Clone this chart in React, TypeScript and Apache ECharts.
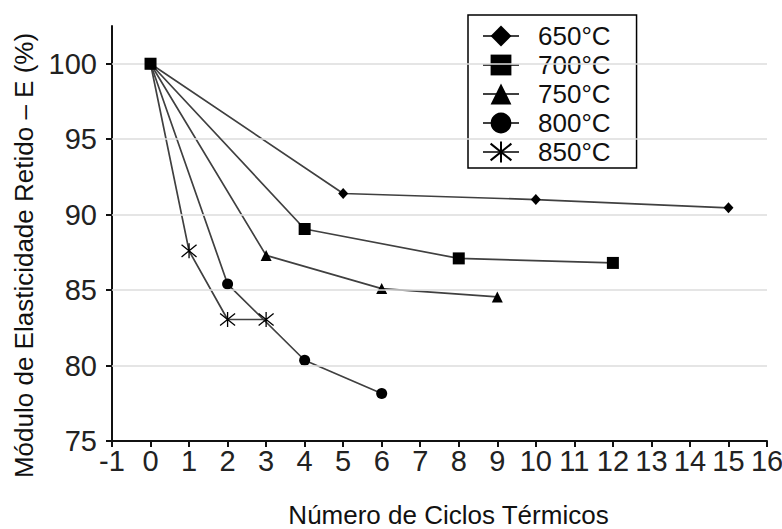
import React, { useEffect, useRef } from "react";
import * as echarts from "echarts";

const seriesNames = ["650°C", "700°C", "750°C", "800°C", "850°C"];
const cycles650 = [0, 5, 10, 15];
const values650 = [100, 91.4, 91.0, 90.45];
const cycles700 = [0, 4, 8, 12];
const values700 = [100, 89.05, 87.1, 86.8];
const cycles750 = [0, 3, 6, 9];
const values750 = [100, 87.3, 85.1, 84.55];
const cycles800 = [0, 2, 4, 6];
const values800 = [100, 85.4, 80.35, 78.15];
const cycles850 = [0, 1, 2, 3];
const values850 = [100, 87.6, 83.05, 83.05];
const yTicks = [75, 80, 85, 90, 95, 100];
const gridValues = [80, 85, 90, 95, 100];

const ASTERISK = "path://M0,0L10,10M10,0L0,10M5,-1.2L5,11.2";

export default function App() {
  const ref = useRef<HTMLDivElement>(null);
  useEffect(() => {
    if (!ref.current) return;
    const chart = echarts.init(ref.current, null, { renderer: "svg" });
    const font = "'Liberation Sans', Arial, sans-serif";
    const lineColor = "#404040";
    const mk = (xs: number[], ys: number[]) => xs.map((x, i) => [x, ys[i]]);
    const base = (name: string, data: any[], symbol: string, size: any, extra: any = {}) => ({
      name,
      type: "line",
      data,
      symbol,
      symbolSize: size,
      showSymbol: true,
      lineStyle: { color: lineColor, width: 1.7 },
      itemStyle: { color: "#000", ...(extra.itemStyle || {}) },
      emphasis: { disabled: true },
      z: extra.z || 3,
    });
    const data850: any[] = mk(cycles850, values850).map((p, i) =>
      i === 0 ? { value: p, symbol: "none" } : p
    );
    chart.setOption({
      animation: false,
      backgroundColor: "#fff",
      textStyle: { fontFamily: font },
      grid: { left: 112, right: 15, top: 26, bottom: 88, containLabel: false, outerBoundsMode: "none" },
      legend: {
        data: seriesNames,
        orient: "vertical",
        left: 468,
        top: 15,
        padding: [8, 26, 3, 14],
        itemGap: 3,
        itemWidth: 36,
        itemHeight: 26,
        borderColor: "#000",
        borderWidth: 1.5,
        backgroundColor: "#fff",
        textStyle: { fontSize: 26, color: "#111", fontFamily: font, padding: [0, 0, 0, 14] },
      },
      xAxis: {
        type: "value",
        min: -1,
        max: 16,
        interval: 1,
        name: "Número de Ciclos Térmicos",
        nameLocation: "middle",
        nameGap: 61,
        nameTextStyle: { fontSize: 26, color: "#111", fontFamily: font, padding: [0, 0, 0, 18] },
        axisLine: { show: true, onZero: false, lineStyle: { color: "#111", width: 2 } },
        axisTick: { show: true, length: 6, lineStyle: { color: "#111", width: 2 } },
        axisLabel: { fontSize: 29, color: "#222", margin: 5, fontFamily: font },
        splitLine: { show: false },
      },
      yAxis: {
        type: "value",
        min: 75,
        max: 102.5,
        interval: 5,
        name: "Módulo de Elasticidade Retido – E (%)",
        nameLocation: "middle",
        nameGap: 75,
        nameTextStyle: { fontSize: 26, color: "#111", fontFamily: font, padding: [0, 44, 0, 0] },
        axisLine: { show: true, onZero: false, lineStyle: { color: "#111", width: 2 } },
        axisTick: { show: true, length: 6, lineStyle: { color: "#111", width: 2 }, customValues: yTicks },
        axisLabel: { fontSize: 29, color: "#222", margin: 15, fontFamily: font, customValues: yTicks },
        splitLine: { show: false },
      },
      series: [
        {
          name: "grid",
          type: "line",
          data: [],
          silent: true,
          z: 1,
          markLine: {
            silent: true,
            symbol: "none",
            label: { show: false },
            lineStyle: { color: "#dcdcdc", width: 1.5, type: "solid" },
            data: gridValues.map((v) => ({ yAxis: v })),
          },
        },
        base(seriesNames[0], mk(cycles650, values650), "diamond", [10, 11]),
        base(seriesNames[1], mk(cycles700, values700), "rect", 12, { z: 5 }),
        base(seriesNames[2], mk(cycles750, values750), "triangle", 11),
        base(seriesNames[3], mk(cycles800, values800), "circle", 11),
        base(seriesNames[4], data850, ASTERISK, 15, {
          itemStyle: { color: "transparent", borderColor: "#000", borderWidth: 1.3 },
        }),
      ],
    });
    return () => chart.dispose();
  }, []);
  return <div ref={ref} style={{ width: 782, height: 529, position: "absolute", left: 0, top: 0 }} />;
}
